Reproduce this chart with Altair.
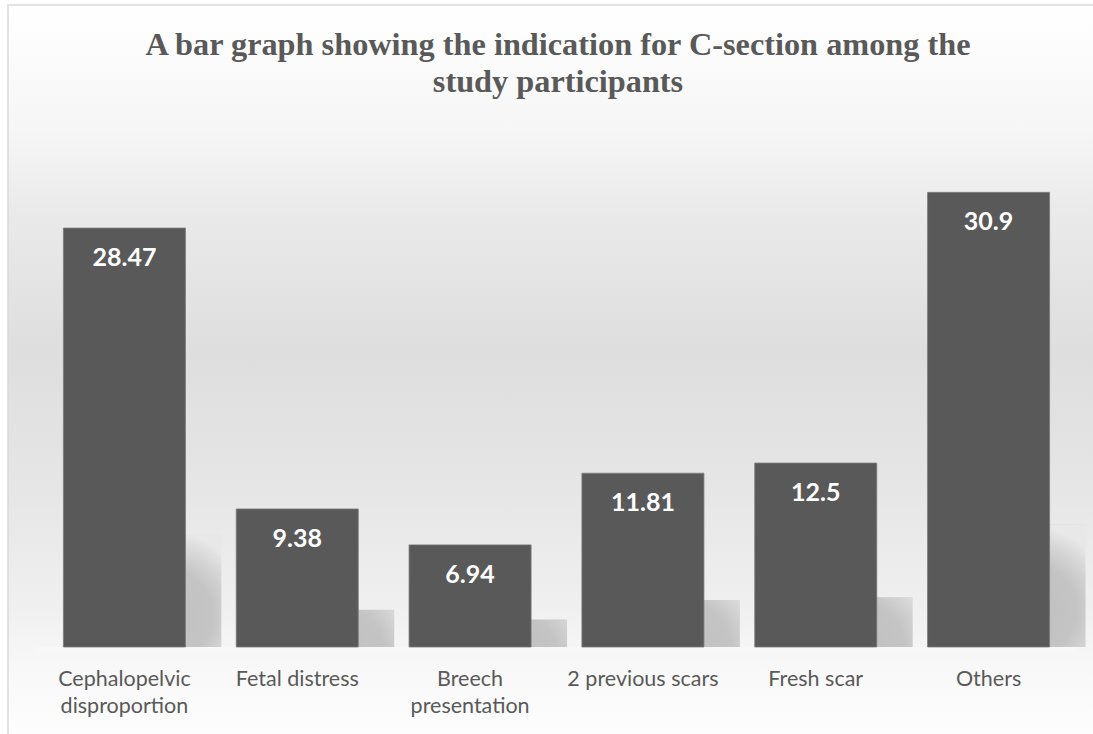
import altair as alt
import pandas as pd

# Indications for C-section (% of study participants)
categories = [
    "Cephalopelvic disproportion",
    "Fetal distress",
    "Breech presentation",
    "2 previous scars",
    "Fresh scar",
    "Others",
]
# axis wording, "|" marks a line break
tick_labels = [
    "Cephalopelvic|disproportion",
    "Fetal distress",
    "Breech|presentation",
    "2 previous scars",
    "Fresh scar",
    "Others",
]
percent = [28.47, 9.38, 6.94, 11.81, 12.5, 30.9]
value_text = ["28.47", "9.38", "6.94", "11.81", "12.5", "30.9"]

title_text = "A bar graph showing the indication for C-section among the|study participants"

W, H = 1037, 515
GREY = "#595959"

df = pd.DataFrame(
    {"category": categories, "percent": percent, "text": value_text, "tick": tick_labels}
)
one = pd.DataFrame({"title": [title_text]})

x_enc = alt.X(
    "category:N",
    sort=categories,
    scale=alt.Scale(domain=categories, paddingInner=0.294, paddingOuter=0.147),
    axis=None,
)
y_scale = alt.Scale(domain=[0, 35], nice=False)

# soft grey backdrop with a thin frame
backdrop = alt.Chart(one).mark_rect(
    color=alt.Gradient(
        gradient="linear",
        x1=0, x2=0, y1=0, y2=1,
        stops=[
            alt.GradientStop(offset=0.0, color="#ffffff"),
            alt.GradientStop(offset=0.17, color="#f6f6f6"),
            alt.GradientStop(offset=0.28, color="#eaeaea"),
            alt.GradientStop(offset=0.47, color="#dedede"),
            alt.GradientStop(offset=0.66, color="#e6e6e6"),
            alt.GradientStop(offset=0.82, color="#f0f0f0"),
            alt.GradientStop(offset=0.9, color="#f8f8f8"),
            alt.GradientStop(offset=1.0, color="#fefefe"),
        ],
    ),
    stroke="#d9d9d9",
    strokeWidth=1.5,
).encode(
    x=alt.value(-30), x2=alt.value(1100), y=alt.value(-127), y2=alt.value(610)
)

# thin pale strip just under the baseline
floor = alt.Chart(one).mark_rect(color="#f7f7f7").encode(
    x=alt.value(0), x2=alt.value(W), y=alt.value(H), y2=alt.value(H + 6)
)

base = alt.Chart(df)

# soft floor shadow cast up and to the right of each bar
shadow = base.transform_calculate(sh="datum.percent * 0.27").mark_bar(
    xOffset=36,
    color=alt.Gradient(
        gradient="radial",
        x1=0.55, y1=0.7, r1=0,
        x2=0.55, y2=0.7, r2=0.68,
        stops=[
            alt.GradientStop(offset=0.0, color="#c0c0c0"),
            alt.GradientStop(offset=0.55, color="#c4c4c4"),
            alt.GradientStop(offset=0.8, color="#d6d6d6"),
            alt.GradientStop(offset=1.0, color="#e8e8e8"),
        ],
    ),
).encode(x=x_enc, y=alt.Y("sh:Q", scale=y_scale, axis=None))

bars = base.mark_bar(color=GREY, stroke="#7a7a7a", strokeWidth=0.8).encode(
    x=x_enc, y=alt.Y("percent:Q", scale=y_scale, axis=None)
)

values = base.mark_text(
    font="Lato", fontSize=25, fontWeight="bold", color="white",
    baseline="alphabetic", dy=38,
).encode(x=x_enc, y=alt.Y("percent:Q", scale=y_scale, axis=None), text="text:N")

cat_labels = base.transform_calculate(
    lines="split(datum.tick, '|')"
).mark_text(
    font="Lato", fontSize=21.5, color=GREY, baseline="alphabetic", lineHeight=27,
).encode(x=x_enc, y=alt.value(H + 39), text=alt.Text("lines:N"))

title = alt.Chart(one).transform_calculate(
    lines="split(datum.title, '|')"
).mark_text(
    font="Liberation Serif", fontSize=32.3, fontWeight="bold", color=GREY,
    align="center", baseline="alphabetic", lineHeight=37,
).encode(x=alt.value(520), y=alt.value(-77), text=alt.Text("lines:N"))

chart = (
    alt.layer(backdrop, floor, shadow, bars, values, cat_labels, title)
    .properties(
        width=W,
        height=H,
        autosize=alt.AutoSizeParams(type="none"),
        padding={"left": 38, "top": 132, "right": 18, "bottom": 87},
        background="white",
    )
    .configure_view(stroke=None)
)

chart.save("out.html", embed_options={"renderer": "svg", "actions": False})
